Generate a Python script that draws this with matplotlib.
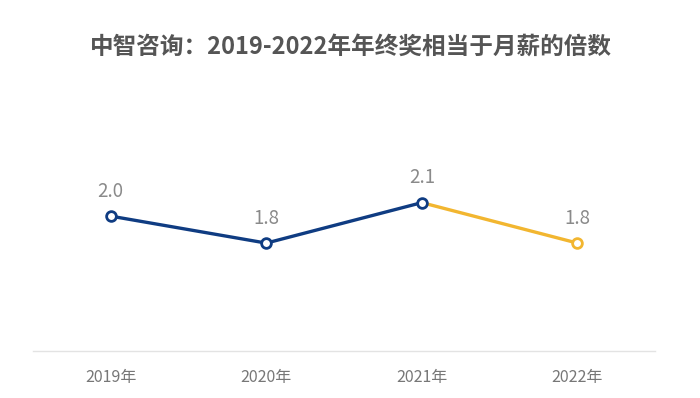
import matplotlib
matplotlib.use("Agg")
import matplotlib.pyplot as plt

plt.rcParams['font.family'] = ['Noto Sans CJK SC', 'DejaVu Sans']

# data
years = ["2019年", "2020年", "2021年", "2022年"]
multiples = [2.0, 1.8, 2.1, 1.8]
value_labels = ["2.0", "1.8", "2.1", "1.8"]

blue = "#0f3c82"
gold = "#f2b630"

fig = plt.figure(figsize=(7, 3.98), dpi=100)
ax = fig.add_axes([0.047, 0.118, 0.889, 0.678])

x = list(range(len(years)))

# blue part up to 2021, gold from 2021 to 2022
ax.plot(x[:3], multiples[:3], color=blue, lw=2.4, solid_capstyle="round", zorder=2)
ax.plot(x[2:], multiples[2:], color=gold, lw=2.4, solid_capstyle="round", zorder=1)

edge_colors = [blue, blue, blue, gold]
for xi, yi, ec in zip(x, multiples, edge_colors):
    ax.plot(xi, yi, marker="o", markersize=7, markerfacecolor="white",
            markeredgecolor=ec, markeredgewidth=2, zorder=3)

for xi, yi, lab in zip(x, multiples, value_labels):
    ax.annotate(lab, (xi, yi), xytext=(0, 18), textcoords="offset points",
                ha="center", va="center", fontsize=13.5, color="#8a8a8a")

ax.set_xlim(-0.5, 3.5)
ax.set_ylim(1.0, 3.0)
ax.set_xticks(x)
ax.set_xticklabels(years, fontsize=11.5, color="#777777")
ax.tick_params(axis="x", length=0, pad=13)
ax.set_yticks([])

for side in ["top", "right", "left"]:
    ax.spines[side].set_visible(False)
ax.spines["bottom"].set_color("#e3e3e3")
ax.spines["bottom"].set_linewidth(1)

fig.text(0.502, 0.882, "中智咨询：2019-2022年年终奖相当于月薪的倍数",
         ha="center", va="center", fontsize=17, fontweight="bold", color="#555555")

fig.savefig("out.png", dpi=100)
